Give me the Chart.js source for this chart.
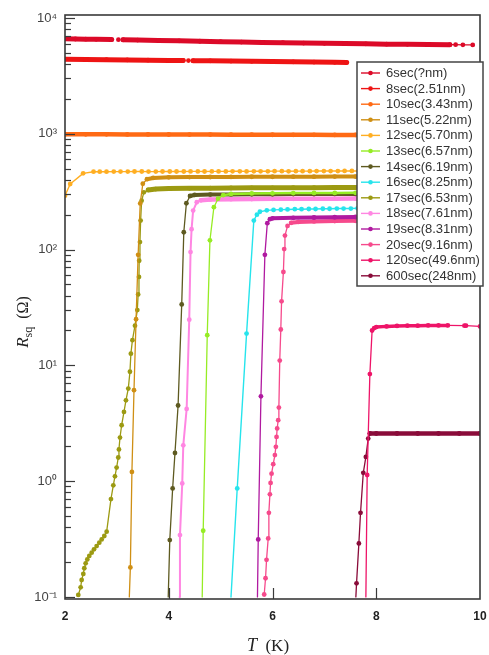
<!DOCTYPE html>
<html>
<head>
<meta charset="utf-8">
<script src="https://cdn.jsdelivr.net/npm/chart.js@4/dist/chart.umd.min.js"></script>
<style>
  html, body { margin: 0; padding: 0; background: #ffffff; }
  canvas { display: block; }
</style>
</head>
<body>
<canvas id="rt" width="489" height="655"></canvas>
<script>
// Sheet resistance R_sq (ohm) versus temperature T (K) for films of increasing deposition time.
// Each series is a list of [T, R] pairs; null marks a break in the measured trace.

const seriesLabels = [
  '6sec(?nm)', '8sec(2.51nm)', '10sec(3.43nm)', '11sec(5.22nm)', '12sec(5.70nm)',
  '13sec(6.57nm)', '14sec(6.19nm)', '16sec(8.25nm)', '17sec(6.53nm)', '18sec(7.61nm)',
  '19sec(8.31nm)', '20sec(9.16nm)', '120sec(49.6nm)', '600sec(248nm)'
];

const r6sec = [[2.0,6600],[2.2,6580],[2.4,6560],[2.6,6530],[2.9,6500],[2.96,null],[3.03,6490],[3.08,null],
  [3.12,6480],[3.4,6440],[3.8,6390],[4.2,6340],[4.6,6290],[5.0,6240],[5.4,6190],[5.8,6150],[6.2,6110],
  [6.6,6070],[7.0,6030],[7.4,6000],[7.8,5970],[8.2,5940],[8.6,5920],[9.0,5900],[9.42,5880],
  [9.53,5870],[9.67,5860],[9.86,5850]];

const r8sec = [[2.0,4400],[2.4,4380],[2.8,4360],[3.2,4340],[3.6,4320],[4.0,4300],[4.28,4290],[4.33,null],
  [4.38,4280],[4.43,null],[4.47,4275],[4.8,4260],[5.2,4240],[5.6,4220],[6.0,4200],[6.4,4180],
  [6.8,4160],[7.2,4135],[7.43,4120]];

const r10sec = [[2.0,990],[2.4,989],[2.8,988],[3.2,987],[3.6,986],[4.0,985],[4.4,984],[4.8,983],
  [5.2,982],[5.6,981],[6.0,980],[6.4,979],[6.8,978],[7.2,977],[7.6,976],[7.8,975]];

const r11sec = [[3.24,0.1],[3.26,0.18],[3.29,1.2],[3.33,6.1],[3.37,25],[3.41,90],[3.45,250],[3.50,370],
  [3.58,405],[3.7,415],[4.0,420],[4.4,422],[4.8,423],[5.2,424],[5.6,425],[6.0,425],[6.4,426],
  [6.8,426],[7.2,427],[7.6,427],[7.8,427]];

const r12sec = [[2.0,292],[2.1,368],[2.35,455],[2.55,470],[2.67,470],[2.80,470],[2.94,471],[3.07,471],
  [3.21,471],[3.34,472],[3.48,472],[3.61,471],[3.75,471],[3.88,472],[4.02,472],[4.15,472],[4.29,472],
  [4.42,473],[4.56,473],[4.69,472],[4.83,473],[4.96,473],[5.10,473],[5.23,474],[5.37,474],[5.50,473],
  [5.64,474],[5.77,474],[5.91,474],[6.04,475],[6.18,475],[6.31,474],[6.45,475],[6.58,475],[6.72,475],
  [6.85,476],[6.99,476],[7.12,476],[7.26,476],[7.39,477],[7.53,477],[7.66,477],[7.80,477]];

const r13sec = [[4.645,0.1],[4.664,0.373],[4.742,18.2],[4.794,120],[4.87,232],[4.95,275],[5.05,295],
  [5.2,302],[5.6,305],[6.0,306],[6.4,307],[6.8,308],[7.2,308],[7.6,309],[7.8,309]];

const r14sec = [[3.99,0.1],[4.02,0.31],[4.075,0.865],[4.12,1.75],[4.18,4.5],[4.25,33.6],[4.29,141],
  [4.34,251],[4.41,290],[4.5,296],[4.8,298],[5.2,299],[5.6,300],[6.0,300],[6.4,301],[6.8,301],
  [7.2,302],[7.6,302],[7.8,302]];

const r16sec = [[5.20,0.1],[5.32,0.865],[5.50,18.8],[5.64,178],[5.70,200],[5.757,212],[5.89,218],
  [6.02,220],[6.16,221],[6.29,222],[6.43,223],[6.56,223],[6.70,224],[6.83,224],[6.97,225],[7.10,225],
  [7.24,226],[7.37,226],[7.51,226],[7.64,227],[7.78,227]];

const r17sec = [[2.256,0.104],[2.302,0.121],[2.321,0.140],[2.353,0.158],[2.372,0.177],[2.398,0.195],
  [2.43,0.211],[2.468,0.226],[2.514,0.241],[2.559,0.258],[2.61,0.275],[2.661,0.294],[2.707,0.314],
  [2.758,0.336],[2.803,0.366],[2.886,0.70],[2.931,0.92],[2.963,1.10],[2.995,1.31],[3.027,1.60],
  [3.04,1.88],[3.06,2.38],[3.092,3.04],[3.137,3.96],[3.175,4.99],[3.22,6.3],[3.252,8.8],[3.27,12.6],
  [3.30,16.5],[3.349,22],[3.394,30],[3.41,41],[3.426,58],[3.43,80],[3.445,116],[3.458,178],
  [3.477,264],[3.52,312],[3.605,327],[3.75,333],[4.0,336],[4.4,338],[4.8,339],[5.2,340],[5.6,341],
  [6.0,341],[6.4,342],[6.8,342],[7.2,343],[7.6,343],[7.8,343]];

const r18sec = [[4.21,0.1],[4.216,0.342],[4.26,0.955],[4.28,2.04],[4.345,4.2],[4.395,24.8],[4.42,95],
  [4.44,150],[4.47,217],[4.54,256],[4.62,266],[4.8,270],[5.2,272],[5.6,273],[6.0,274],[6.4,274],
  [6.8,275],[7.2,275],[7.6,276],[7.8,276]];

const r19sec = [[5.71,0.1],[5.725,0.314],[5.777,5.4],[5.853,90],[5.90,169],[5.95,183],[6.0,186],
  [6.4,188],[6.8,189],[7.2,190],[7.6,191],[7.8,191]];

const r20sec = [[5.84,0.105],[5.866,0.145],[5.885,0.209],[5.917,0.32],[5.93,0.533],[5.95,0.77],
  [5.963,0.966],[5.982,1.16],[6.014,1.40],[6.046,1.68],[6.065,1.98],[6.078,2.41],[6.09,2.85],
  [6.11,3.36],[6.123,4.32],[6.14,11.0],[6.16,20.4],[6.175,35.7],[6.21,64],[6.225,101],[6.24,132],
  [6.29,160],[6.36,170],[6.5,173],[6.8,175],[7.2,176],[7.6,177],[7.8,177]];

const r120sec = [[7.80,0.1],[7.825,1.13],[7.877,8.4],[7.92,20],[7.96,21],[8.0,21.4],[8.2,21.7],
  [8.4,21.9],[8.6,22.0],[8.8,22.0],[9.0,22.1],[9.2,22.1],[9.38,22.1],[9.70,22.0],[9.73,22.0],
  [10.0,21.7]];

const r600sec = [[7.607,0.1],[7.62,0.131],[7.665,0.29],[7.697,0.533],[7.75,1.18],[7.80,1.62],
  [7.845,2.33],[7.877,2.58],[8.0,2.58],[8.4,2.58],[8.8,2.58],[9.2,2.58],[9.6,2.58],[10.0,2.58]];

const seriesData = [r6sec, r8sec, r10sec, r11sec, r12sec, r13sec, r14sec, r16sec, r17sec, r18sec,
  r19sec, r20sec, r120sec, r600sec];

// Axis ticks: decades 10^-1 .. 10^4 with minor marks at 2..9 of each decade; T every 2 K
const decadeExponents = [-1, 0, 1, 2, 3, 4];
const minorSteps = [1, 2, 3, 4, 5, 6, 7, 8, 9];
const temperatureTicks = [2, 4, 6, 8, 10];

// Styling (kept apart from the measurements)
const seriesColors = ['#dc0a28', '#ee1414', '#ff6a14', '#cf8f14', '#ffae22', '#96ec24', '#5e5a20',
  '#26e4ec', '#9c9a12', '#ff86e2', '#b01aa0', '#f64a8c', '#ee1468', '#8a0c3a'];
// densely sampled flat stretches render as a heavy trace
const plateauWidth = [5, 5, 4.5, 4, 1.4, 2.5, 4, 1.4, 5, 4.5, 4, 4, 3.5, 4.5];
const thinWidth    = [1.3, 1.3, 1.3, 1.3, 1.4, 1.3, 1.3, 1.4, 1.3, 2, 1.3, 1.3, 1.3, 1.3];
const denseUntil   = [9.45, 10, 10, 10, 10, 10, 10, 10, 10, 10, 10, 10, 9.4, 10];

const SUP = {'-': '\u207B', '0': '\u2070', '1': '\u00B9', '2': '\u00B2', '3': '\u00B3', '4': '\u2074'};
function decadeLabel(v) {
  const e = Math.log10(v);
  if (Math.abs(e - Math.round(e)) > 1e-9) return '';
  return '10' + String(Math.round(e)).split('').map(c => SUP[c]).join('');
}

Chart.defaults.font.family = '"Liberation Sans", Arial, sans-serif';

const datasets = seriesLabels.map((label, i) => ({
  label,
  data: seriesData[i],
  borderColor: seriesColors[i],
  backgroundColor: seriesColors[i],
  borderWidth: thinWidth[i],
  borderCapStyle: 'round',
  borderJoinStyle: 'round',
  pointRadius: c => (c.raw && c.raw[1] !== null && c.raw[1] <= 0.1 ? 0 : 2.4),
  pointBorderWidth: 0,
  pointHoverRadius: 0,
  spanGaps: false,
  tension: 0,
  segment: {
    borderWidth: c => {
      const a = c.p0.parsed, b = c.p1.parsed;
      const slope = Math.abs(Math.log10(b.y / a.y) / (b.x - a.x));
      const flat = slope < 0.15 && b.x <= denseUntil[i] + 1e-9;
      return flat ? plateauWidth[i] : thinWidth[i];
    }
  }
}));

// Box frame, inward tick marks, axis titles and the boxed legend
const decorations = {
  id: 'decorations',
  afterDatasetsDraw(chart) {
    const { ctx, chartArea: a, scales: { x, y } } = chart;
    ctx.save();
    ctx.strokeStyle = '#3a3a3a';
    ctx.lineWidth = 1.2;
    y.ticks.forEach(t => {
      const py = Math.round(y.getPixelForValue(t.value)) + 0.5;
      if (py < a.top + 1 || py > a.bottom - 1) return;
      const len = t.major ? 10 : 6;
      ctx.beginPath(); ctx.moveTo(a.left, py); ctx.lineTo(a.left + len, py); ctx.stroke();
    });
    x.ticks.forEach(t => {
      const px = Math.round(x.getPixelForValue(t.value)) + 0.5;
      if (px < a.left + 1 || px > a.right - 1) return;
      ctx.beginPath(); ctx.moveTo(px, a.bottom); ctx.lineTo(px, a.bottom - 11); ctx.stroke();
    });
    ctx.lineWidth = 1.6;
    ctx.strokeRect(a.left, a.top, a.right - a.left, a.bottom - a.top);
    ctx.restore();
  },
  afterDraw(chart) {
    const { ctx } = chart;
    ctx.save();
    ctx.fillStyle = '#222';
    ctx.textBaseline = 'alphabetic';

    // x title: T (K)
    const tFont = 'italic 18px "Liberation Serif", serif';
    const kFont = '17px "Liberation Serif", serif';
    ctx.font = tFont; const wT = ctx.measureText('T').width;
    ctx.font = kFont; const wK = ctx.measureText('  (K)').width;
    const sx = 268 - (wT + wK) / 2;
    ctx.font = tFont; ctx.fillText('T', sx, 651);
    ctx.font = kFont; ctx.fillText('  (K)', sx + wT, 651);

    // y title: R_sq (Ω), rotated
    ctx.translate(28, 322);
    ctx.rotate(-Math.PI / 2);
    const parts = [
      { t: 'R', f: 'italic 17px "Liberation Serif", serif', dy: 0 },
      { t: 'sq', f: '12px "Liberation Serif", serif', dy: 4 },
      { t: '  (\u03A9)', f: '16px "Liberation Serif", serif', dy: 0 }
    ];
    let total = 0;
    parts.forEach(p => { ctx.font = p.f; p.w = ctx.measureText(p.t).width; total += p.w; });
    let px = -total / 2;
    parts.forEach(p => { ctx.font = p.f; ctx.fillText(p.t, px, p.dy); px += p.w; });
    ctx.setTransform(1, 0, 0, 1, 0, 0);

    // legend
    const L = 357, T = 62, R = 483, B = 286;
    ctx.fillStyle = '#ffffff';
    ctx.fillRect(L, T, R - L, B - T);
    ctx.strokeStyle = '#444';
    ctx.lineWidth = 1.5;
    ctx.strokeRect(L, T, R - L, B - T);
    ctx.font = '13px "Liberation Sans", Arial, sans-serif';
    ctx.textBaseline = 'middle';
    chart.data.datasets.forEach((ds, i) => {
      const yy = 73 + i * 15.6;
      ctx.strokeStyle = ds.borderColor;
      ctx.lineWidth = 1.4;
      ctx.beginPath(); ctx.moveTo(361, yy); ctx.lineTo(380, yy); ctx.stroke();
      ctx.fillStyle = ds.borderColor;
      ctx.beginPath(); ctx.arc(370.5, yy, 2.3, 0, Math.PI * 2); ctx.fill();
      ctx.fillStyle = '#333';
      ctx.fillText(ds.label, 386, yy + 0.5);
    });
    ctx.restore();
  }
};

new Chart(document.getElementById('rt'), {
  type: 'line',
  data: { datasets },
  options: {
    responsive: false,
    animation: false,
    layout: { padding: { top: 15, right: 9, bottom: 0, left: 0 } },
    plugins: { legend: { display: false }, tooltip: { enabled: false } },
    events: [],
    scales: {
      x: {
        type: 'linear', min: 2, max: 10,
        grid: { display: false, drawTicks: false },
        border: { display: false },
        afterBuildTicks: s => { s.ticks = temperatureTicks.map(v => ({ value: v })); },
        ticks: { padding: 10, color: '#222', font: { size: 12, weight: 'bold' } },
        afterFit: s => { s.height = 56; s.paddingLeft = 0; s.paddingRight = 0; }
      },
      y: {
        type: 'logarithmic', min: 0.096, max: 10600,
        grid: { display: false, drawTicks: false },
        border: { display: false },
        afterBuildTicks: s => {
          const list = [];
          decadeExponents.forEach(e => minorSteps.forEach(k => {
            const v = Number((k * Math.pow(10, e)).toPrecision(6));
            if (v >= s.min && v <= s.max) list.push({ value: v, major: k === 1 });
          }));
          s.ticks = list;
        },
        ticks: { autoSkip: false, padding: 8, color: '#444', font: { size: 13 }, callback: v => decadeLabel(v) },
        afterFit: s => { s.width = 65; s.paddingTop = 0; s.paddingBottom = 0; }
      }
    }
  },
  plugins: [decorations]
});
</script>
</body>
</html>
